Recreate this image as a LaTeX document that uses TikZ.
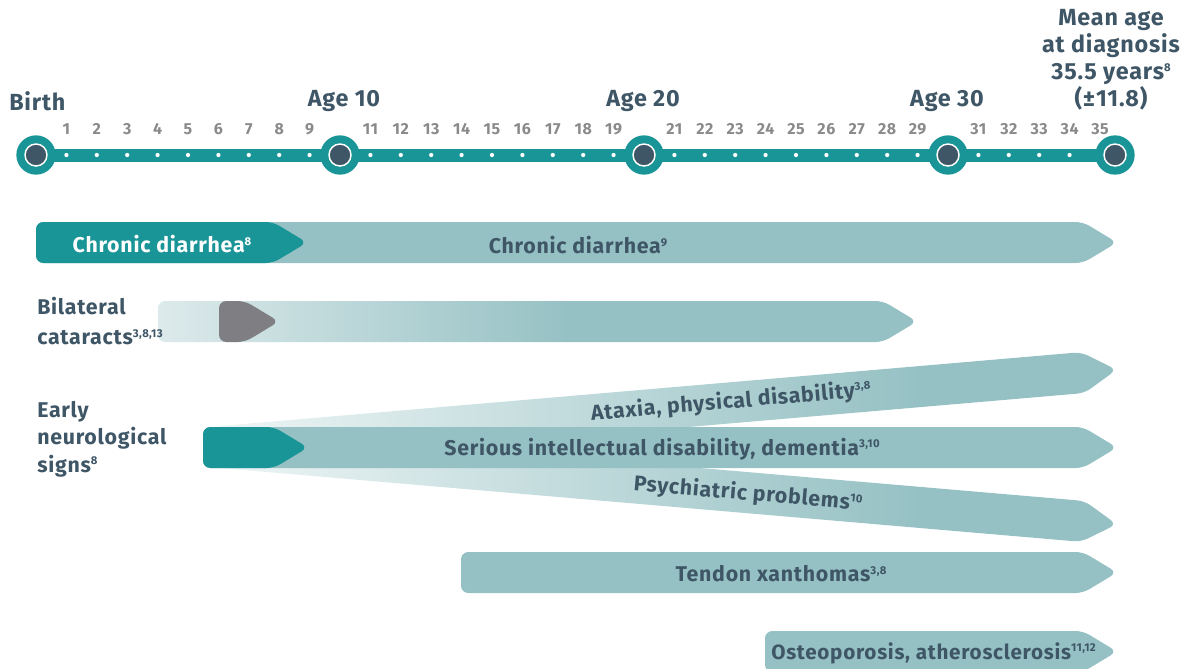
\documentclass[tikz,border=0pt]{standalone}
\usepackage{fontspec}
\setmainfont{Fira Sans}[LetterSpace=3.5]
\definecolor{cteal}{HTML}{1A9597}
\definecolor{cbar}{HTML}{96C1C4}
\definecolor{cslate}{HTML}{3E5666}
\definecolor{cgraynum}{HTML}{8A8A8A}
\definecolor{cgrayshape}{HTML}{7F7F83}
\definecolor{ccatl}{HTML}{DDEAEB}
\definecolor{cfanl}{HTML}{EEF5F5}
\pgfdeclarehorizontalshading{catshade}{100bp}{color(0bp)=(ccatl); color(25bp)=(ccatl); color(52bp)=(cbar); color(100bp)=(cbar)}
\pgfdeclarehorizontalshading{fanshade}{100bp}{color(0bp)=(cfanl); color(25bp)=(cfanl); color(64bp)=(cbar); color(100bp)=(cbar)}
\newcommand\spr[1]{\raisebox{0.65ex}{\fontsize{8.5}{8.5}\selectfont #1}}
% bar with arrow tip: [style]{x left}{y top}{x tip}{y bottom}
\newcommand\tipbar[5][]{\path[rounded corners=5.5pt,#1] (#2,#3) -- ({#4-34},#3) -- (#4,{(#3+#5)/2}) -- ({#4-34},#5) -- (#2,#5) -- cycle;}
\begin{document}
\begin{tikzpicture}[x=0.75pt,y=-0.75pt,
  lbl/.style={text=cslate,font=\fontsize{16}{20}\selectfont\bfseries,inner sep=0pt},
  agelbl/.style={text=cslate,font=\fontsize{17.5}{20.25}\selectfont\bfseries,inner sep=0pt},
  numlbl/.style={text=cgraynum,font=\fontsize{12}{14}\selectfont\bfseries,inner sep=0pt},
  bigdot/.style={circle,fill=cteal,minimum size=29.5pt,inner sep=0pt},
  innerdot/.style={circle,fill=cslate,draw=white,line width=1.1pt,minimum size=16.5pt,inner sep=0pt},
  barfill/.style={fill=cbar},
  tealfill/.style={fill=cteal},
  grayfill/.style={fill=cgrayshape}]
\useasboundingbox (0,0) rectangle (1182,668);
% ---------------- timeline
\fill[cteal] (36,148.5) rectangle (1115,161.5);
\foreach \n in {1,...,35} {\fill[white] ({36+30.4*\n},155) circle (1.6pt);}
\foreach \n/\x in {0/36,10/340,20/644,30/948,35/1115} {
  \node[bigdot] (c\n) at (\x,155) {};
  \node[innerdot] (d\n) at (c\n) {};
}
\foreach \n in {1,...,9,11,12,...,19,21,22,...,29,31,32,...,35} {
  \node[numlbl] (n\n) at ({36+30.4*\n},129) {\n};
}
\node[agelbl,anchor=west] (birth) at (9,101) {Birth};
\node[agelbl] (a10) at (344,101) {Age 10};
\node[agelbl] (a20) at (643,101) {Age 20};
\node[agelbl] (a30) at (947,101) {Age 30};
\node[agelbl,align=center] (mean) at (1111,60) {Mean age\\at diagnosis\\35.5 years\spr{8}\\(±11.8)};
% ---------------- chronic diarrhea
\tipbar[barfill]{36}{222}{1117}{263}
\tipbar[tealfill]{36}{222}{307}{263}
\node[lbl,text=white] (cd8) at (162,244) {Chronic diarrhea\spr{8}};
\node[lbl] (cd9) at (578,245) {Chronic diarrhea\spr{9}};
% ---------------- cataracts
\tipbar[shading=catshade]{158}{301}{917}{342}
\tipbar[grayfill]{219}{301}{279}{342}
\node[lbl,align=left,anchor=west,font=\fontsize{16}{23}\selectfont\bfseries] (cat) at (37,321) {Bilateral\\cataracts\spr{3,8,13}};
% ---------------- neurological
\begin{scope}[shift={(215,447)},rotate=4.9]
\tipbar[shading=fanshade]{0}{-20.5}{905}{20.5}
\end{scope}
\begin{scope}[shift={(215,447)},rotate=-4.9]
\tipbar[shading=fanshade]{0}{-20.5}{905}{20.5}
\end{scope}
\tipbar[barfill]{203}{427}{1117}{468}
\tipbar[tealfill]{203}{427}{308}{468}
\node[lbl,rotate=4.9] (atx) at (731,402) {Ataxia, physical disability\spr{3,8}};
\node[lbl] (ser) at (662,449) {Serious intellectual disability, dementia\spr{3,10}};
\node[lbl,rotate=-4.9] (psy) at (748,494) {Psychiatric problems\spr{10}};
\node[lbl,align=left,anchor=west,font=\fontsize{16}{20.5}\selectfont\bfseries] (neuro) at (37,439) {Early\\neurological\\signs\spr{8}};
% ---------------- tendon
\tipbar[barfill]{461}{552}{1117}{593}
\node[lbl] (ten) at (781,574) {Tendon xanthomas\spr{3,8}};
% ---------------- osteoporosis
\tipbar[barfill]{765}{631}{1117}{672}
\node[lbl,anchor=west,font=\fontsize{15.5}{20}\selectfont\bfseries] (ost) at (771,653) {Osteoporosis, atherosclerosis\spr{11,12}};
\end{tikzpicture}
\end{document}
